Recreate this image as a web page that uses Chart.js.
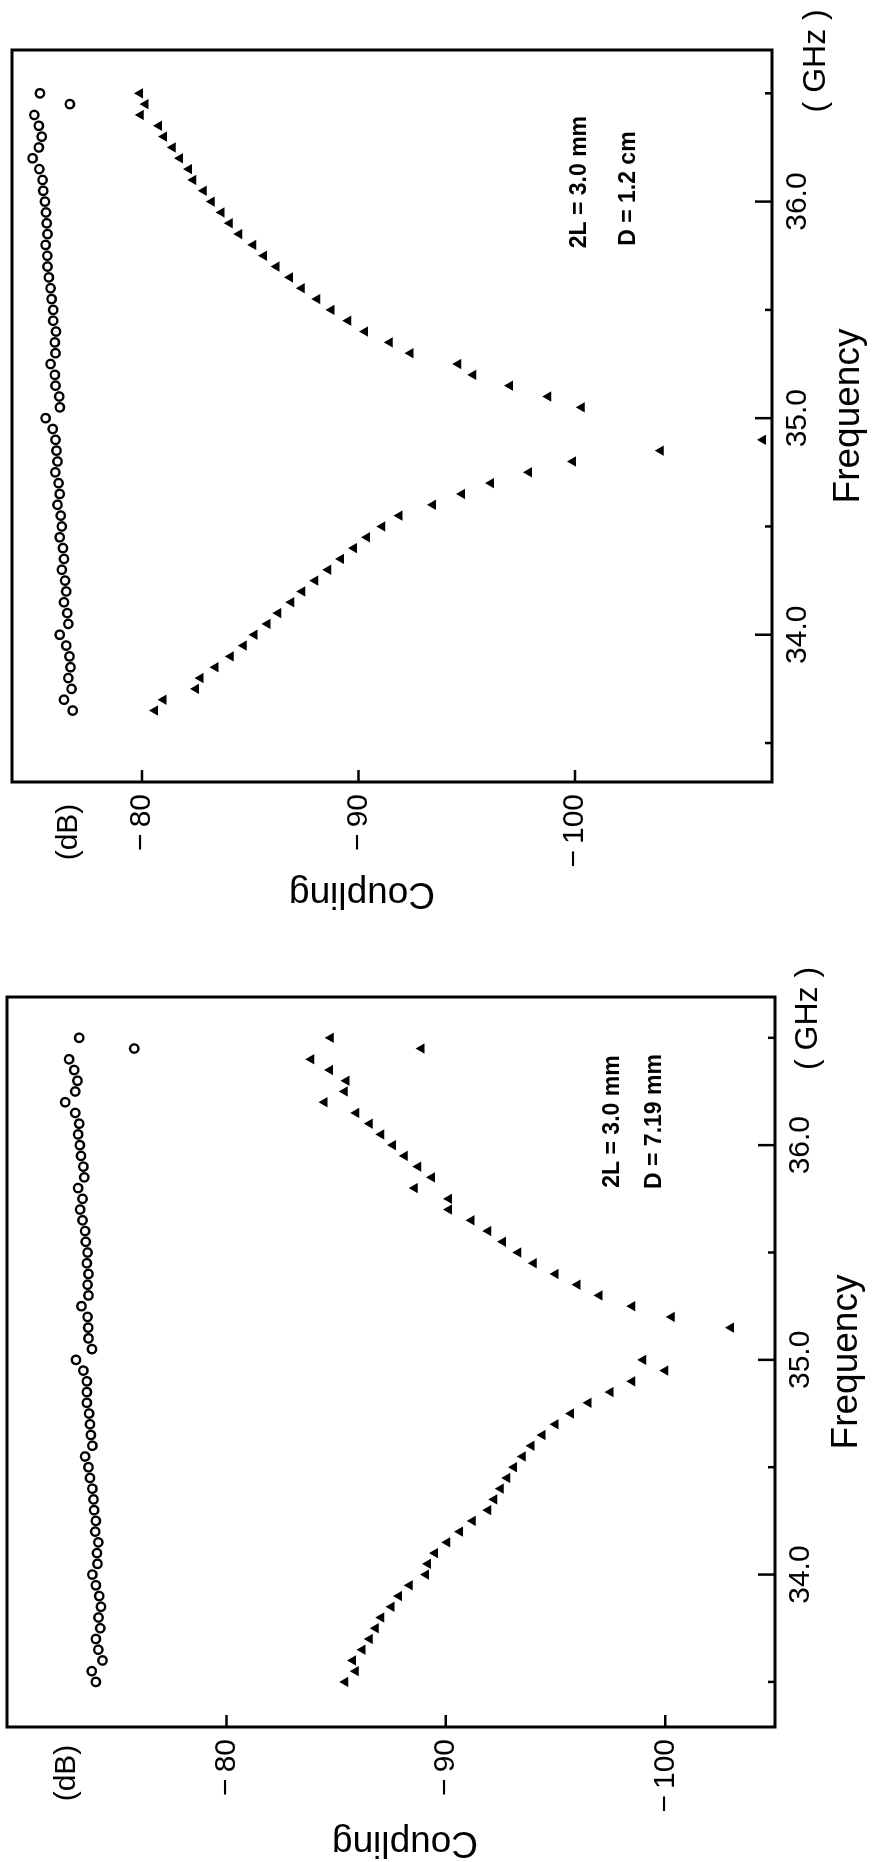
<!DOCTYPE html>
<html>
<head>
<meta charset="utf-8">
<script src="https://cdn.jsdelivr.net/npm/chart.js@4.4.0/dist/chart.umd.min.js"></script>
<style>
  html, body { margin: 0; padding: 0; background: #fff; }
  body { width: 873px; height: 1862px; position: relative; overflow: hidden; }
  /* each chart is drawn upright, then turned a quarter left like the scanned figure */
  .panel { position: absolute; left: 0; width: 931px; height: 873px; transform-origin: top left; transform: translate(0, 931px) rotate(-90deg); }
  #panelTop { top: 0; }
  #panelBottom { top: 931px; }
</style>
</head>
<body>
<div class="panel" id="panelTop"><canvas id="chartTop" width="931" height="873"></canvas></div>
<div class="panel" id="panelBottom"><canvas id="chartBottom" width="931" height="873"></canvas></div>
<script>
// axis ticks
const freqTicks = [34, 35, 36];
const freqMinorTicks = [33.5, 34.5, 35.5, 36.5];
const couplingTicks = [-100, -90, -80];

// panel D = 1.2 cm
const topCircleFreq = [36.50, 36.45, 36.40, 36.35, 36.30, 36.25, 36.20, 36.15, 36.10, 36.05, 36.00, 35.95, 35.90, 35.85, 35.80, 35.75, 35.70, 35.65, 35.60, 35.55, 35.50, 35.45, 35.40, 35.35, 35.30, 35.25, 35.20, 35.15, 35.10, 35.05, 35.00, 34.95, 34.90, 34.85, 34.80, 34.75, 34.70, 34.65, 34.60, 34.55, 34.50, 34.45, 34.40, 34.35, 34.30, 34.25, 34.20, 34.15, 34.10, 34.05, 34.00, 33.95, 33.90, 33.85, 33.80, 33.75, 33.70, 33.65];
const topCircleDb = [-75.29, -76.67, -75.03, -75.24, -75.37, -75.24, -74.95, -75.26, -75.41, -75.44, -75.52, -75.57, -75.60, -75.64, -75.55, -75.63, -75.64, -75.70, -75.78, -75.83, -75.90, -75.90, -76.03, -75.98, -76.01, -75.78, -75.98, -76.01, -76.18, -76.21, -75.55, -75.88, -76.01, -76.05, -76.10, -76.00, -76.15, -76.20, -76.10, -76.25, -76.30, -76.20, -76.35, -76.40, -76.30, -76.45, -76.50, -76.40, -76.55, -76.60, -76.20, -76.50, -76.65, -76.70, -76.60, -76.75, -76.40, -76.80];
const topTriFreq = [36.50, 36.45, 36.40, 36.35, 36.30, 36.25, 36.20, 36.15, 36.10, 36.05, 36.00, 35.95, 35.90, 35.85, 35.80, 35.75, 35.70, 35.65, 35.60, 35.55, 35.50, 35.45, 35.40, 35.35, 35.30, 35.25, 35.20, 35.15, 35.10, 35.05, 34.90, 34.85, 34.80, 34.75, 34.70, 34.65, 34.60, 34.55, 34.50, 34.45, 34.40, 34.35, 34.30, 34.25, 34.20, 34.15, 34.10, 34.05, 34.00, 33.95, 33.90, 33.85, 33.80, 33.75, 33.70, 33.65];
const topTriDb = [-79.91, -80.17, -79.95, -80.79, -81.02, -81.42, -81.76, -82.18, -82.37, -82.86, -83.22, -83.68, -84.06, -84.49, -85.14, -85.64, -86.22, -86.84, -87.38, -88.10, -88.76, -89.53, -90.30, -91.45, -92.41, -94.61, -95.30, -97.00, -98.77, -100.31, -108.68, -103.96, -99.91, -97.88, -96.12, -94.78, -93.44, -91.90, -91.10, -90.40, -89.80, -89.20, -88.60, -88.00, -87.40, -86.90, -86.30, -85.80, -85.20, -84.70, -84.10, -83.40, -82.70, -82.50, -81.00, -80.60];

// panel D = 7.19 mm
const botCircleFreq = [36.50, 36.45, 36.40, 36.35, 36.30, 36.25, 36.20, 36.15, 36.10, 36.05, 36.00, 35.95, 35.90, 35.85, 35.80, 35.75, 35.70, 35.65, 35.60, 35.55, 35.50, 35.45, 35.40, 35.35, 35.30, 35.25, 35.20, 35.15, 35.10, 35.05, 35.00, 34.95, 34.90, 34.85, 34.80, 34.75, 34.70, 34.65, 34.60, 34.55, 34.50, 34.45, 34.40, 34.35, 34.30, 34.25, 34.20, 34.15, 34.10, 34.05, 34.00, 33.95, 33.90, 33.85, 33.80, 33.75, 33.70, 33.65, 33.60, 33.55, 33.50];
const botCircleDb = [-73.29, -75.80, -72.83, -73.06, -73.21, -73.11, -72.65, -73.11, -73.29, -73.24, -73.32, -73.37, -73.48, -73.52, -73.24, -73.44, -73.33, -73.44, -73.56, -73.59, -73.67, -73.64, -73.71, -73.67, -73.71, -73.39, -73.67, -73.70, -73.71, -73.87, -73.14, -73.48, -73.64, -73.64, -73.64, -73.74, -73.78, -73.82, -73.89, -73.56, -73.71, -73.78, -73.89, -73.94, -73.97, -74.05, -74.02, -74.16, -74.10, -74.12, -73.89, -74.05, -74.20, -74.28, -74.17, -74.25, -74.05, -74.16, -74.35, -73.86, -74.05];
const botTriFreq = [36.50, 36.45, 36.40, 36.35, 36.30, 36.25, 36.20, 36.15, 36.10, 36.05, 36.00, 35.95, 35.90, 35.85, 35.80, 35.75, 35.70, 35.65, 35.60, 35.55, 35.50, 35.45, 35.40, 35.35, 35.30, 35.25, 35.20, 35.15, 35.00, 34.95, 34.90, 34.85, 34.80, 34.75, 34.70, 34.65, 34.60, 34.55, 34.50, 34.45, 34.40, 34.35, 34.30, 34.25, 34.20, 34.15, 34.10, 34.05, 34.00, 33.95, 33.90, 33.85, 33.80, 33.75, 33.70, 33.65, 33.60, 33.55, 33.50];
const botTriDb = [-84.75, -88.89, -83.87, -84.72, -85.47, -85.39, -84.47, -85.92, -86.53, -87.06, -87.59, -88.13, -88.74, -89.37, -88.58, -90.14, -90.14, -91.17, -91.93, -92.60, -93.30, -94.00, -95.00, -96.00, -97.00, -98.50, -100.30, -103.00, -99.00, -100.00, -98.50, -97.50, -96.50, -95.70, -95.00, -94.40, -93.90, -93.50, -93.10, -92.80, -92.50, -92.20, -91.93, -91.22, -90.64, -90.06, -89.50, -89.19, -89.09, -88.36, -87.87, -87.52, -87.06, -86.80, -86.53, -86.20, -85.77, -85.89, -85.42];

const FONT = '"Liberation Sans", Arial, sans-serif';

function pairs(xs, ys) {
    return xs.map((f, i) => ({ x: f, y: ys[i] }));
}

// box, inward tick marks and the loose labels of the scan
const framePlugin = {
    id: 'frame',
    afterDraw(chart, args, opts) {
        const { ctx, chartArea: a } = chart;
        const x = chart.scales.x, y = chart.scales.y;
        ctx.save();
        ctx.strokeStyle = '#000';
        ctx.lineWidth = 3;
        ctx.strokeRect(a.left, a.top, a.right - a.left, a.bottom - a.top);
        ctx.lineWidth = 2.5;
        ctx.beginPath();
        freqTicks.forEach(f => {
            const px = x.getPixelForValue(f);
            ctx.moveTo(px, a.bottom); ctx.lineTo(px, a.bottom - 17);
        });
        freqMinorTicks.forEach(f => {
            const px = x.getPixelForValue(f);
            ctx.moveTo(px, a.bottom); ctx.lineTo(px, a.bottom - 7);
        });
        couplingTicks.forEach(c => {
            const py = y.getPixelForValue(c);
            ctx.moveTo(a.left, py); ctx.lineTo(a.left + 12, py);
        });
        ctx.stroke();

        ctx.fillStyle = '#000';
        ctx.textAlign = 'center';
        ctx.textBaseline = 'middle';
        ctx.font = '32px ' + FONT;
        ctx.fillText('( GHz )', x.getPixelForValue(opts.ghzAt), a.bottom + opts.ghzGap);
        ctx.font = '30px ' + FONT;
        ctx.fillText('(dB)', opts.dbX, y.getPixelForValue(opts.dbAt));
        ctx.font = 'bold 23px ' + FONT;
        opts.notes.forEach(n => {
            ctx.fillText(n.text, x.getPixelForValue(n.f), y.getPixelForValue(n.c));
        });
        // y axis title sits a little off the axis centre in the scan
        ctx.save();
        ctx.translate(opts.titleU, opts.titleV);
        ctx.rotate(-Math.PI / 2);
        ctx.font = '37px ' + FONT;
        ctx.fillText('Coupling', 0, 0);
        ctx.restore();
        ctx.restore();
    }
};

function makePanel(id, circF, circC, triF, triC, cfg) {
    const ctx = document.getElementById(id).getContext('2d');
    return new Chart(ctx, {
        type: 'scatter',
        data: {
            datasets: [{
                label: 'circles',
                data: pairs(circF, circC),
                pointStyle: 'circle',
                pointRadius: 4.2,
                borderWidth: 2.4,
                borderColor: '#000',
                backgroundColor: '#fff'
            }, {
                label: 'triangles',
                data: pairs(triF, triC),
                pointStyle: 'triangle',
                pointRadius: 4,
                borderWidth: 2,
                borderColor: '#000',
                backgroundColor: '#000'
            }]
        },
        options: {
            responsive: false,
            devicePixelRatio: 1,
            animation: false,
            layout: { padding: cfg.padding },
            plugins: {
                legend: { display: false },
                tooltip: { enabled: false },
                frame: cfg.frame
            },
            scales: {
                x: {
                    type: 'linear',
                    min: cfg.fMin,
                    max: cfg.fMax,
                    grid: { display: false, drawTicks: false },
                    border: { display: false },
                    afterBuildTicks: s => { s.ticks = freqTicks.map(v => ({ value: v })); },
                    afterFit: s => { s.height = cfg.xHeight; s.paddingLeft = 0; s.paddingRight = 0; },
                    ticks: {
                        color: '#000',
                        padding: 8,
                        maxRotation: 0,
                        font: { family: FONT, size: 30 },
                        callback: v => v.toFixed(1)
                    },
                    title: {
                        display: true,
                        text: 'Frequency',
                        color: '#000',
                        font: { family: FONT, size: 37 },
                        padding: { top: 0, bottom: cfg.xTitlePad }
                    }
                },
                y: {
                    type: 'linear',
                    min: cfg.cMin,
                    max: cfg.cMax,
                    grid: { display: false, drawTicks: false },
                    border: { display: false },
                    afterBuildTicks: s => { s.ticks = couplingTicks.map(v => ({ value: v })); },
                    afterFit: s => { s.width = cfg.yWidth; s.paddingTop = 0; s.paddingBottom = 0; },
                    ticks: {
                        color: '#000',
                        padding: 12,
                        font: { family: FONT, size: 30 },
                        callback: v => '\u2212\u2009' + Math.abs(v)
                    }
                }
            }
        },
        plugins: [framePlugin]
    });
}

makePanel('chartTop', topCircleFreq, topCircleDb, topTriFreq, topTriDb, {
    fMin: 33.32, fMax: 36.70, cMin: -109.1, cMax: -74.0,
    padding: { left: 0, top: 12, right: 50, bottom: 0 },
    yWidth: 149, xHeight: 101, xTitlePad: 2,
    frame: {
        ghzAt: 36.65, ghzGap: 44, dbAt: -76.6, dbX: 99, titleU: 38, titleV: 362,
        notes: [{ text: '2L = 3.0 mm', f: 36.09, c: -100.2 }, { text: 'D = 1.2 cm', f: 36.06, c: -102.5 }]
    }
});

makePanel('chartBottom', botCircleFreq, botCircleDb, botTriFreq, botTriDb, {
    fMin: 33.29, fMax: 36.69, cMin: -105.0, cMax: -70.0,
    padding: { left: 0, top: 7, right: 66, bottom: 0 },
    yWidth: 135, xHeight: 98, xTitlePad: 4,
    frame: {
        ghzAt: 36.59, ghzGap: 33, dbAt: -72.7, dbX: 89, titleU: 20, titleV: 405,
        notes: [{ text: '2L = 3.0 mm', f: 36.11, c: -97.6 }, { text: 'D = 7.19 mm', f: 36.11, c: -99.5 }]
    }
});
</script>
</body>
</html>
